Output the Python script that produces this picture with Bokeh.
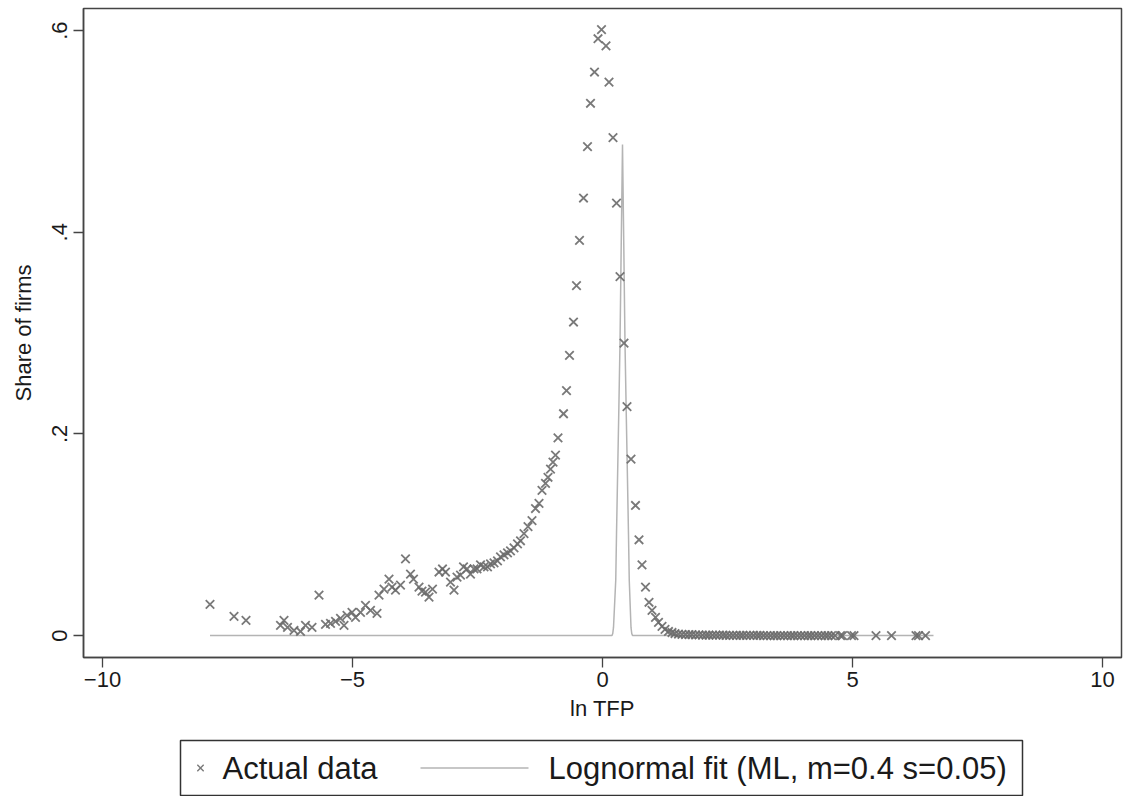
from bokeh.plotting import figure
from bokeh.models import Range1d, FixedTicker, ColumnDataSource
from bokeh.layouts import column
from bokeh.core.properties import value
from bokeh.embed import file_html
from bokeh.resources import INLINE

# ---- data ----
ln_tfp = [-7.85, -7.37, -7.13,
          -6.44, -6.37, -6.30, -6.17, -6.04, -5.94, -5.81, -5.67, -5.54, -5.44,
          -5.34, -5.24, -5.17, -5.11, -5.01, -4.94, -4.84, -4.74, -4.64, -4.51,
          -4.47, -4.37, -4.27, -4.21, -4.14, -4.04, -3.94, -3.84, -3.78, -3.67,
          -3.61, -3.54, -3.47, -3.40, -3.27, -3.20, -3.14, -3.04, -2.97, -2.91,
          -2.84, -2.78, -2.71, -2.64, -2.57, -2.51, -2.44, -2.37, -2.30, -2.24,
          -2.17, -2.10, -2.04, -1.97, -1.90, -1.84, -1.77, -1.70, -1.64, -1.57,
          -1.49, -1.41, -1.34, -1.27, -1.21, -1.14, -1.09, -1.04, -0.99, -0.94,
          -0.89, -0.78, -0.72, -0.66, -0.58, -0.52, -0.46, -0.38, -0.30, -0.24,
          -0.16, -0.09, -0.02, 0.07, 0.13, 0.21, 0.28, 0.35, 0.43, 0.49, 0.57,
          0.66, 0.73, 0.79, 0.86, 0.93, 0.99, 1.06, 1.12, 1.19, 1.25, 1.32, 1.39,
          1.45, 1.52, 1.59,
          1.66, 1.73, 1.79, 1.86, 1.93, 2.00, 2.07, 2.13, 2.20, 2.27, 2.34, 2.41,
          2.47, 2.54, 2.61, 2.68, 2.75, 2.81, 2.88, 2.95, 3.02, 3.09, 3.15, 3.22,
          3.29, 3.36, 3.43, 3.49, 3.56, 3.63, 3.70, 3.77, 3.83, 3.90, 3.97, 4.04,
          4.11, 4.17, 4.24, 4.31, 4.38, 4.45, 4.51, 4.58, 4.65,
          4.76, 4.80, 4.98, 5.03, 5.47, 5.78, 6.27, 6.32, 6.46, 6.59]
share = [0.031, 0.019, 0.015,
         0.010, 0.015, 0.008, 0.005, 0.004, 0.010, 0.008, 0.040, 0.011, 0.012,
         0.014, 0.017, 0.010, 0.020, 0.023, 0.018, 0.023, 0.030, 0.025, 0.022,
         0.040, 0.046, 0.056, 0.048, 0.045, 0.050, 0.076, 0.061, 0.056, 0.048,
         0.044, 0.043, 0.038, 0.046, 0.063, 0.066, 0.063, 0.053, 0.045, 0.058,
         0.060, 0.068, 0.066, 0.061, 0.066, 0.066, 0.070, 0.068, 0.068, 0.071,
         0.072, 0.074, 0.078, 0.080, 0.082, 0.084, 0.087, 0.091, 0.094, 0.101,
         0.108, 0.114, 0.126, 0.131, 0.144, 0.151, 0.157, 0.165, 0.172, 0.179,
         0.196, 0.220, 0.243, 0.278, 0.311, 0.347, 0.392, 0.434, 0.485, 0.528,
         0.559, 0.592, 0.601, 0.585, 0.549, 0.494, 0.429, 0.356, 0.290, 0.227,
         0.175, 0.129, 0.095, 0.070, 0.048, 0.033, 0.025, 0.018, 0.013, 0.009,
         0.006, 0.004, 0.003, 0.002, 0.0015, 0.0012,
         0.0010, 0.0009, 0.0008, 0.0007, 0.0006, 0.0005, 0.0005, 0.0004, 0.0004,
         0.0003, 0.0003, 0.0003, 0.0002, 0.0002, 0.0002, 0.0002, 0.0001, 0.0001,
         0.0001, 0.0001, 0.0001, 0.0001, 0.0001, 0.0, 0.0, 0.0, 0.0, 0.0, 0.0,
         0.0, 0.0, 0.0, 0.0, 0.0, 0.0, 0.0, 0.0, 0.0, 0.0, 0.0, 0.0, 0.0, 0.0,
         0.0, 0.0, 0.0, 0.0, 0.0, 0.0, 0.0, 0.0, 0.0, 0.0, 0.0]

fit_x = [-7.85, 0.19, 0.205, 0.22, 0.265, 0.28, 0.30, 0.325, 0.35, 0.375, 0.40,
         0.425, 0.45, 0.475, 0.50, 0.52, 0.535, 0.57, 0.585, 0.60, 6.62]
fit_y = [0.0, 0.0, 0.002, 0.008, 0.055, 0.100, 0.154, 0.220, 0.290, 0.390, 0.487,
         0.390, 0.290, 0.220, 0.154, 0.100, 0.055, 0.008, 0.002, 0.0, 0.0]

x_ticks = [-10, -5, 0, 5, 10]
y_ticks = [0, 0.2, 0.4, 0.6]
y_tick_labels = ["0", ".2", ".4", ".6"]

legend_labels = ["Actual data", "Lognormal fit (ML, m=0.4 s=0.05)"]

FONT = "Liberation Sans"
W = 1123
BL, BR = 83, 2
FRAME_W = W - BL - BR

src = ColumnDataSource(dict(x=ln_tfp, y=share))
fit_src = ColumnDataSource(dict(x=fit_x, y=fit_y))

p = figure(width=W, height=728, output_backend="svg", toolbar_location=None,
           x_range=Range1d(-10.38, 10.38), y_range=Range1d(-0.0218, 0.622),
           min_border_left=BL, min_border_right=BR, min_border_top=8,
           min_border_bottom=71)
p.background_fill_color = "white"
p.border_fill_color = "white"
p.outline_line_color = "#444444"
p.outline_line_width = 1.5
p.grid.visible = False

p.line("x", "y", source=fit_src, line_color="#b4b4b4", line_width=1.5)
p.scatter("x", "y", source=src, marker="x", size=12, line_color="#6a6a6a",
          line_width=1.8, line_alpha=0.9)

for ax in (p.xaxis[0], p.yaxis[0]):
    ax.axis_line_color = "#444444"
    ax.axis_line_width = 1.5
    ax.major_tick_line_color = "#444444"
    ax.major_tick_line_width = 1.3
    ax.major_tick_out = 10
    ax.major_tick_in = 0
    ax.minor_tick_line_color = None
    ax.major_label_text_font = FONT
    ax.major_label_text_font_size = "22px"
    ax.major_label_text_color = "#1a1a1a"
    ax.axis_label_text_font = FONT
    ax.axis_label_text_font_size = "22px"
    ax.axis_label_text_font_style = "normal"
    ax.axis_label_text_color = "#1a1a1a"

p.xaxis.ticker = FixedTicker(ticks=x_ticks)
p.xaxis.axis_label = "ln TFP"
p.xaxis.major_label_standoff = 4
p.xaxis.axis_label_standoff = 6

p.yaxis.ticker = FixedTicker(ticks=y_ticks)
p.yaxis.major_label_overrides = {t: l for t, l in zip(y_ticks, y_tick_labels)}
p.yaxis.major_label_orientation = "vertical"
p.yaxis.axis_label = "Share of firms"
p.yaxis.major_label_standoff = 6
p.yaxis.axis_label_standoff = 14

# ---- legend panel (positions in px relative to the plot frame's left edge) ----
LH = 68
lg = figure(width=W, height=LH, output_backend="svg", toolbar_location=None,
            x_range=Range1d(0, FRAME_W), y_range=Range1d(0, LH),
            x_axis_location=None, y_axis_location=None,
            min_border_left=BL, min_border_right=BR, min_border_top=0,
            min_border_bottom=0)
lg.background_fill_color = "white"
lg.border_fill_color = "white"
lg.outline_line_color = None
lg.grid.visible = False
lg.quad(left=[97], right=[939], bottom=[1], top=[56], fill_color=None,
        line_color="#333333", line_width=1.5)
lg.scatter(x=[117], y=[28.5], marker="x", size=9, line_color="#7a7a7a",
           line_width=1.4)
lg.segment(x0=[337], y0=[28.5], x1=[445], y1=[28.5], line_color="#b4b4b4",
           line_width=1.5)
lg.text(x=[139, 465], y=[28.5, 28.5], text=legend_labels,
        text_font=value(FONT), text_font_size="31px", text_baseline="middle",
        text_align="left", text_color="#1a1a1a")

layout = column(p, lg, spacing=0)
open("out.html", "w").write(file_html(layout, INLINE))
